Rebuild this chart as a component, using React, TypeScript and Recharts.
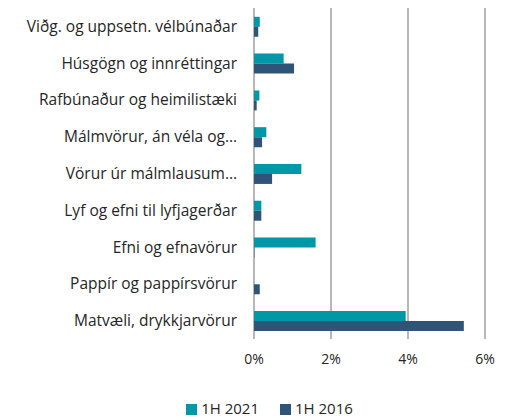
import { BarChart, Bar, XAxis, YAxis, CartesianGrid, Legend } from "recharts";

const categories = [
  "Viðg. og uppsetn. vélbúnaðar",
  "Húsgögn og innréttingar",
  "Rafbúnaður og heimilistæki",
  "Málmvörur, án véla og…",
  "Vörur úr málmlausum…",
  "Lyf og efni til lyfjagerðar",
  "Efni og efnavörur",
  "Pappír og pappírsvörur",
  "Matvæli, drykkjarvörur ",
];

const h2021 = [0.15, 0.77, 0.14, 0.32, 1.23, 0.19, 1.6, 0, 3.94];
const h2016 = [0.11, 1.04, 0.07, 0.21, 0.47, 0.19, 0.01, 0.15, 5.45];

const xTicks = [0, 2, 4, 6];

const TEAL = "#0097A7";
const NAVY = "#2F5477";

const data = categories.map((name, i) => ({
  name,
  h2021: h2021[i],
  h2016: h2016[i],
}));

const FONT = "'Open Sans', sans-serif";
const order = ["1H 2021", "1H 2016"];

export default function App() {
  return (
    <div style={{ position: "absolute", left: 0, top: 0, fontFamily: FONT }}>
      <BarChart
        width={507}
        height={418}
        data={data}
        layout="vertical"
        margin={{ top: 8, right: 22, left: 0, bottom: 15 }}
        barCategoryGap="24%"
        barGap={0}
      >
        <CartesianGrid horizontal={false} stroke="#A0A0A0" strokeWidth={1.5} />
        <XAxis
          type="number"
          domain={[0, 6]}
          ticks={xTicks}
          tickFormatter={(v) => `${v}%`}
          axisLine={false}
          tickLine={false}
          tick={{ fill: "#262626", fontSize: 14, fontFamily: FONT }}
          tickMargin={9}
          height={44}
        />
        <YAxis
          type="category"
          dataKey="name"
          width={254}
          axisLine={false}
          tickLine={false}
          tickMargin={11}
          interval={0}
          tick={{ fill: "#262626", fontSize: 15.5, fontFamily: FONT }}
        />
        <Legend
          verticalAlign="bottom"
          iconType="square"
          iconSize={11}
          itemSorter={(item: any) => order.indexOf(item.value)}
          wrapperStyle={{ fontSize: 15, color: "#262626", paddingLeft: 32, bottom: 0 }}
          formatter={(value) => (
            <span style={{ color: "#262626", marginRight: value === "1H 2021" ? 11 : 0 }}>
              {value}
            </span>
          )}
        />
        <Bar dataKey="h2021" name="1H 2021" fill={TEAL} isAnimationActive={false} />
        <Bar dataKey="h2016" name="1H 2016" fill={NAVY} isAnimationActive={false} />
      </BarChart>
    </div>
  );
}
